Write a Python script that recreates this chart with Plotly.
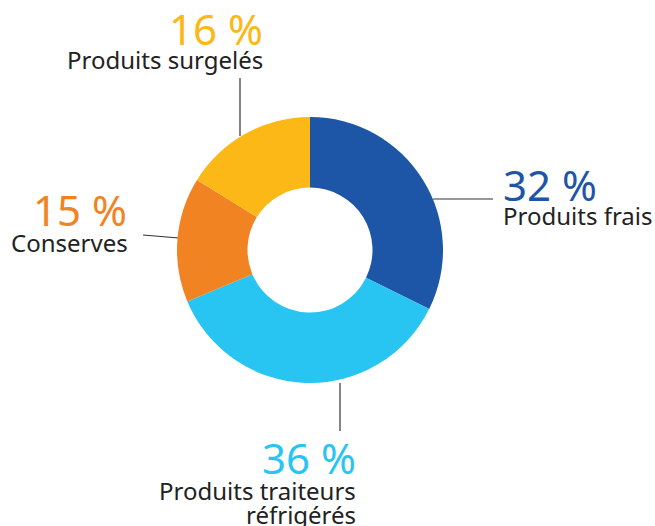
import plotly.graph_objects as go

labels = ["Produits frais", "Produits traiteurs<br>réfrigérés", "Conserves", "Produits surgelés"]
values = [32, 36, 15, 16]
pct_text = ["32 %", "36 %", "15 %", "16 %"]
colors = ["#1d56a6", "#29c5f2", "#f28323", "#fbb817"]

W, H = 655, 526
def px(x): return x / W
def py(y): return 1 - y / H

fig = go.Figure(go.Pie(
    labels=labels, values=values, sort=False, direction="clockwise", rotation=0,
    hole=0.47, marker=dict(colors=colors, line=dict(width=0)),
    textinfo="none", hoverinfo="label+value", showlegend=False,
    domain=dict(x=[px(177), px(443)], y=[py(383), py(117)]),
))

font = "'Noto Sans', 'Open Sans', sans-serif"
ann = []
# (pct x, pct y, label x, label y, anchor, idx)
specs = [
    (501, 184, 501, 216, "left", 0),
    (358, 457, 358, 490, "right", 1),
    (129, 209, 130, 242, "right", 2),
    (265, 29, 265, 59, "right", 3),
]
for xp, yp, xl, yl, anc, i in specs:
    ann.append(dict(x=px(xp), y=py(yp), xref="paper", yref="paper", text=pct_text[i],
                    showarrow=False, xanchor=anc, yanchor="middle",
                    font=dict(family=font, size=42, color=colors[i])))
    for k, line in enumerate(labels[i].split("<br>")):
        ann.append(dict(x=px(xl), y=py(yl + 24 * k), xref="paper", yref="paper", text=line,
                        showarrow=False, xanchor=anc, yanchor="middle", align=anc,
                        font=dict(family=font, size=24, color="#222222")))

lines = [
    (433, 199, 493, 199),
    (340, 383, 340, 431),
    (143, 235, 179, 238),
    (240, 78, 240, 136),
]
shapes = [dict(type="line", xref="paper", yref="paper", x0=px(a), y0=py(b), x1=px(c), y1=py(d),
               line=dict(color="#333333", width=1.2), layer="below") for a, b, c, d in lines]

fig.update_layout(width=W, height=H, margin=dict(l=0, r=0, t=0, b=0),
                  paper_bgcolor="white", plot_bgcolor="white",
                  annotations=ann, shapes=shapes)
fig.write_html("out.html", config={"displayModeBar": False},
               post_script="document.body.style.margin='0';document.body.style.overflow='hidden';")
